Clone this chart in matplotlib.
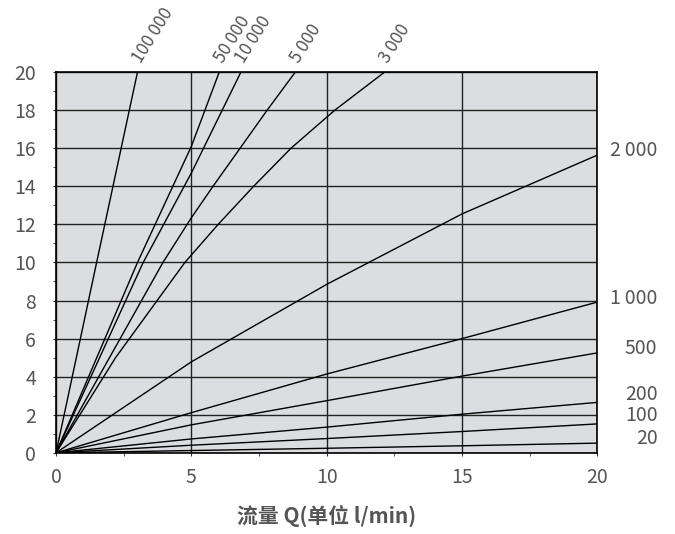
import matplotlib
matplotlib.use("Agg")
import matplotlib.pyplot as plt
from matplotlib.ticker import MultipleLocator

plt.rcParams['font.family'] = ['Noto Sans CJK SC', 'DejaVu Sans']

# viscosity curves: flow Q (l/min) vs pressure drop
labels = ['100\u2009000', '50\u2009000', '10\u2009000', '5\u2009000', '3\u2009000',
          '2\u2009000', '1\u2009000', '500', '200', '100', '20']

q_100000 = [0, 1.50, 3.01]
p_100000 = [0, 10, 20]
q_50000 = [0, 3.01, 5.0, 6.03]
p_50000 = [0, 10, 16.1, 20]
q_10000 = [0, 3.22, 5.0, 6.83]
p_10000 = [0, 10, 14.7, 20]
q_5000 = [0, 3.95, 5.0, 5.8, 6.8, 7.8, 8.84]
p_5000 = [0, 10, 12.35, 14, 16, 18, 20]
q_3000 = [0, 2.2, 4.76, 5.99, 7.3, 8.68, 10.3, 12.14]
p_3000 = [0, 5, 10, 12, 14, 16, 18, 20]
q_low = [0, 5, 10, 15, 20]
p_2000 = [0, 4.78, 8.85, 12.55, 15.64]
p_1000 = [0, 2.11, 4.14, 6.0, 7.92]
p_500 = [0, 1.47, 2.74, 4.03, 5.25]
p_200 = [0, 0.73, 1.35, 2.03, 2.65]
p_100 = [0, 0.40, 0.75, 1.12, 1.52]
p_20 = [0, 0.12, 0.24, 0.37, 0.51]

series = [(q_100000, p_100000), (q_50000, p_50000), (q_10000, p_10000),
          (q_5000, p_5000), (q_3000, p_3000), (q_low, p_2000), (q_low, p_1000),
          (q_low, p_500), (q_low, p_200), (q_low, p_100), (q_low, p_20)]

# label placement for right-side labels (y in data units)
right_label_y = [15.9, 8.1, 5.5, 3.04, 1.94, 0.73]

grey = '#555555'

fig = plt.figure(figsize=(6.75, 5.34), dpi=100)
ax = fig.add_axes([0.083, 0.152, 0.802, 0.713])
ax.set_facecolor('#dcdde0')

for x, y in series:
    ax.plot(x, y, color='black', lw=1.0, zorder=3)

ax.set_xlim(0, 20)
ax.set_ylim(0, 20)
ax.xaxis.set_major_locator(MultipleLocator(5))
ax.xaxis.set_minor_locator(MultipleLocator(2.5))
ax.yaxis.set_major_locator(MultipleLocator(2))
ax.yaxis.set_minor_locator(MultipleLocator(1))
ax.grid(True, which='major', color='#222222', lw=1.0, zorder=1)
ax.set_axisbelow(True)
ax.tick_params(which='both', direction='out', colors='#333333', labelcolor=grey,
               labelsize=14, length=2.5)
ax.tick_params(axis='y', which='major', pad=12)
ax.tick_params(axis='x', which='major', pad=8)
for s in ax.spines.values():
    s.set_color('black')
    s.set_linewidth(1.2)

# top labels (rotated)
for lab, (x, y) in zip(labels[:5], series[:5]):
    ax.annotate(lab, xy=(x[-1], 20), xytext=(5, 4), textcoords='offset points',
                rotation=58, rotation_mode='anchor', ha='left', va='bottom',
                fontsize=12.5, color=grey, annotation_clip=False)

# right labels
for lab, ly in zip(labels[5:], right_label_y):
    ax.text(1.111, ly, lab, transform=ax.get_yaxis_transform(), ha='right',
            va='center', fontsize=14, color=grey)

ax.set_xlabel('流量 Q(单位 l/min)', fontsize=15, fontweight='bold',
              color=grey, labelpad=12)

fig.savefig('out.png', dpi=100)
